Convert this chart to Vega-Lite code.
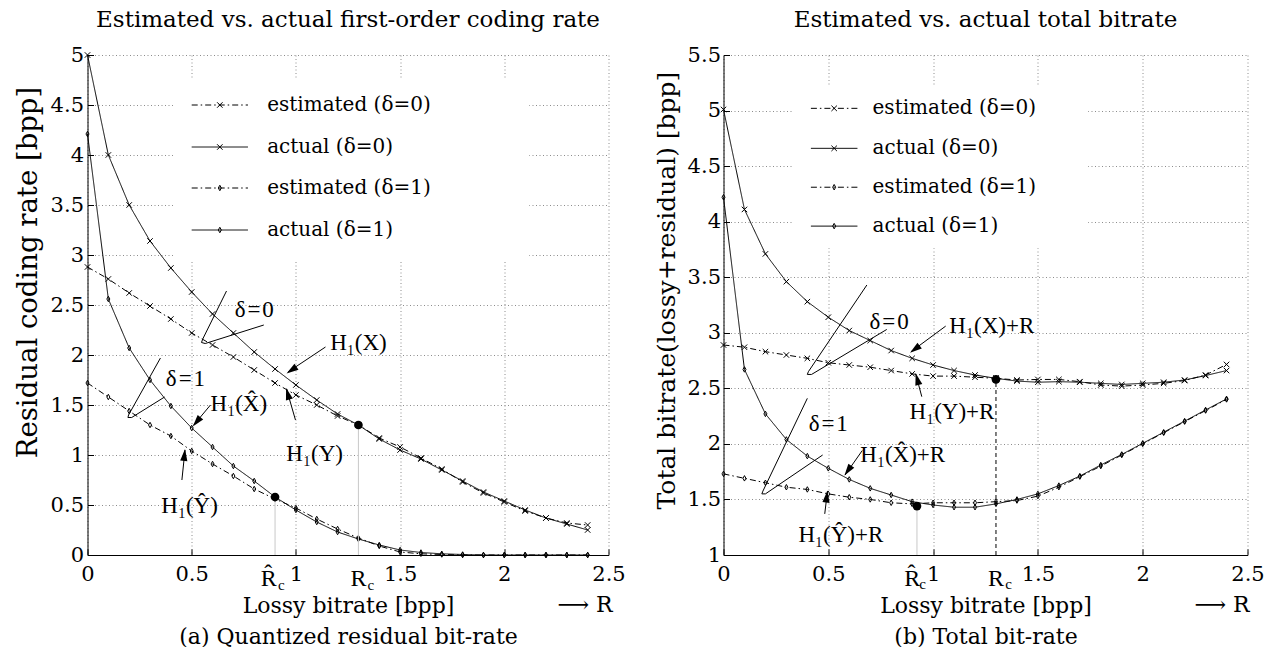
{
  "$schema": "https://vega.github.io/schema/vega-lite/v6.json",
  "padding": {"left": 13.5, "top": 9, "right": 5, "bottom": 0},
  "background": "white",
  "bounds": "flush",
  "spacing": 115,
  "config": {
    "font": "DejaVu Serif",
    "view": {"stroke": null},
    "legend": {"disable": true},
    "axis": {
      "labelFont": "DejaVu Serif",
      "labelFontSize": 21,
      "labelColor": "black",
      "titleFont": "DejaVu Serif",
      "titleFontWeight": "normal",
      "titleColor": "black",
      "domainColor": "black",
      "domainWidth": 1,
      "gridColor": "#8c8c8c",
      "gridDash": [1, 2.5],
      "gridWidth": 1,
      "tickColor": "black",
      "tickSize": -6,
      "labelFlush": false,
      "labelOverlap": false
    },
    "title": {"font": "DejaVu Serif", "fontSize": 23, "fontWeight": "normal", "color": "black", "offset": 12, "anchor": "middle"}
  },
  "datasets": {
    "L": [
      {"x":0,"s":"act0","y":5.0},{"x":0.1,"s":"act0","y":4.0},{"x":0.2,"s":"act0","y":3.5},{"x":0.3,"s":"act0","y":3.14},{"x":0.4,"s":"act0","y":2.87},{"x":0.5,"s":"act0","y":2.63},{"x":0.6,"s":"act0","y":2.41},{"x":0.7,"s":"act0","y":2.22},{"x":0.8,"s":"act0","y":2.03},{"x":0.9,"s":"act0","y":1.86},{"x":1,"s":"act0","y":1.70},{"x":1.1,"s":"act0","y":1.55},{"x":1.2,"s":"act0","y":1.41},{"x":1.3,"s":"act0","y":1.30},{"x":1.4,"s":"act0","y":1.16},{"x":1.5,"s":"act0","y":1.05},{"x":1.6,"s":"act0","y":0.96},{"x":1.7,"s":"act0","y":0.85},{"x":1.8,"s":"act0","y":0.74},{"x":1.9,"s":"act0","y":0.63},{"x":2,"s":"act0","y":0.54},{"x":2.1,"s":"act0","y":0.45},{"x":2.2,"s":"act0","y":0.37},{"x":2.3,"s":"act0","y":0.31},{"x":2.4,"s":"act0","y":0.25},
      {"x":0,"s":"est0","y":2.88},{"x":0.1,"s":"est0","y":2.76},{"x":0.2,"s":"est0","y":2.62},{"x":0.3,"s":"est0","y":2.49},{"x":0.4,"s":"est0","y":2.36},{"x":0.5,"s":"est0","y":2.22},{"x":0.6,"s":"est0","y":2.10},{"x":0.7,"s":"est0","y":1.98},{"x":0.8,"s":"est0","y":1.85},{"x":0.9,"s":"est0","y":1.72},{"x":1,"s":"est0","y":1.60},{"x":1.1,"s":"est0","y":1.50},{"x":1.2,"s":"est0","y":1.39},{"x":1.3,"s":"est0","y":1.30},{"x":1.4,"s":"est0","y":1.17},{"x":1.5,"s":"est0","y":1.08},{"x":1.6,"s":"est0","y":0.97},{"x":1.7,"s":"est0","y":0.86},{"x":1.8,"s":"est0","y":0.73},{"x":1.9,"s":"est0","y":0.62},{"x":2,"s":"est0","y":0.53},{"x":2.1,"s":"est0","y":0.44},{"x":2.2,"s":"est0","y":0.37},{"x":2.3,"s":"est0","y":0.32},{"x":2.4,"s":"est0","y":0.30},
      {"x":0,"s":"act1","y":4.21},{"x":0.1,"s":"act1","y":2.56},{"x":0.2,"s":"act1","y":2.07},{"x":0.3,"s":"act1","y":1.75},{"x":0.4,"s":"act1","y":1.49},{"x":0.5,"s":"act1","y":1.27},{"x":0.6,"s":"act1","y":1.08},{"x":0.7,"s":"act1","y":0.89},{"x":0.8,"s":"act1","y":0.74},{"x":0.9,"s":"act1","y":0.58},{"x":1,"s":"act1","y":0.45},{"x":1.1,"s":"act1","y":0.33},{"x":1.2,"s":"act1","y":0.23},{"x":1.3,"s":"act1","y":0.16},{"x":1.4,"s":"act1","y":0.10},{"x":1.5,"s":"act1","y":0.05},{"x":1.6,"s":"act1","y":0.025},{"x":1.7,"s":"act1","y":0.012},{"x":1.8,"s":"act1","y":0.005},{"x":1.9,"s":"act1","y":0},{"x":2,"s":"act1","y":0},{"x":2.1,"s":"act1","y":0},{"x":2.2,"s":"act1","y":0},{"x":2.3,"s":"act1","y":0},{"x":2.4,"s":"act1","y":0},
      {"x":0,"s":"est1","y":1.72},{"x":0.1,"s":"est1","y":1.58},{"x":0.2,"s":"est1","y":1.44},{"x":0.3,"s":"est1","y":1.30},{"x":0.4,"s":"est1","y":1.19},{"x":0.5,"s":"est1","y":1.04},{"x":0.6,"s":"est1","y":0.91},{"x":0.7,"s":"est1","y":0.79},{"x":0.8,"s":"est1","y":0.66},{"x":0.9,"s":"est1","y":0.56},{"x":1,"s":"est1","y":0.47},{"x":1.1,"s":"est1","y":0.36},{"x":1.2,"s":"est1","y":0.26},{"x":1.3,"s":"est1","y":0.17},{"x":1.4,"s":"est1","y":0.09},{"x":1.5,"s":"est1","y":0.03},{"x":1.6,"s":"est1","y":0.012},{"x":1.7,"s":"est1","y":0.005},{"x":1.8,"s":"est1","y":0},{"x":1.9,"s":"est1","y":0},{"x":2,"s":"est1","y":0},{"x":2.1,"s":"est1","y":0},{"x":2.2,"s":"est1","y":0},{"x":2.3,"s":"est1","y":0},{"x":2.4,"s":"est1","y":0}
    ],
    "R": [
      {"x":0,"s":"act0","y":5.01},{"x":0.1,"s":"act0","y":4.11},{"x":0.2,"s":"act0","y":3.71},{"x":0.3,"s":"act0","y":3.46},{"x":0.4,"s":"act0","y":3.28},{"x":0.5,"s":"act0","y":3.14},{"x":0.6,"s":"act0","y":3.02},{"x":0.7,"s":"act0","y":2.93},{"x":0.8,"s":"act0","y":2.84},{"x":0.9,"s":"act0","y":2.77},{"x":1,"s":"act0","y":2.71},{"x":1.1,"s":"act0","y":2.66},{"x":1.2,"s":"act0","y":2.62},{"x":1.3,"s":"act0","y":2.59},{"x":1.4,"s":"act0","y":2.565},{"x":1.5,"s":"act0","y":2.555},{"x":1.6,"s":"act0","y":2.56},{"x":1.7,"s":"act0","y":2.555},{"x":1.8,"s":"act0","y":2.545},{"x":1.9,"s":"act0","y":2.535},{"x":2,"s":"act0","y":2.545},{"x":2.1,"s":"act0","y":2.555},{"x":2.2,"s":"act0","y":2.575},{"x":2.3,"s":"act0","y":2.615},{"x":2.4,"s":"act0","y":2.66},
      {"x":0,"s":"est0","y":2.89},{"x":0.1,"s":"est0","y":2.87},{"x":0.2,"s":"est0","y":2.83},{"x":0.3,"s":"est0","y":2.80},{"x":0.4,"s":"est0","y":2.77},{"x":0.5,"s":"est0","y":2.73},{"x":0.6,"s":"est0","y":2.71},{"x":0.7,"s":"est0","y":2.69},{"x":0.8,"s":"est0","y":2.66},{"x":0.9,"s":"est0","y":2.63},{"x":1,"s":"est0","y":2.61},{"x":1.1,"s":"est0","y":2.61},{"x":1.2,"s":"est0","y":2.60},{"x":1.3,"s":"est0","y":2.59},{"x":1.4,"s":"est0","y":2.575},{"x":1.5,"s":"est0","y":2.58},{"x":1.6,"s":"est0","y":2.58},{"x":1.7,"s":"est0","y":2.56},{"x":1.8,"s":"est0","y":2.53},{"x":1.9,"s":"est0","y":2.52},{"x":2,"s":"est0","y":2.53},{"x":2.1,"s":"est0","y":2.545},{"x":2.2,"s":"est0","y":2.57},{"x":2.3,"s":"est0","y":2.62},{"x":2.4,"s":"est0","y":2.715},
      {"x":0,"s":"act1","y":4.22},{"x":0.1,"s":"act1","y":2.67},{"x":0.2,"s":"act1","y":2.27},{"x":0.3,"s":"act1","y":2.04},{"x":0.4,"s":"act1","y":1.89},{"x":0.5,"s":"act1","y":1.78},{"x":0.6,"s":"act1","y":1.68},{"x":0.7,"s":"act1","y":1.60},{"x":0.8,"s":"act1","y":1.54},{"x":0.9,"s":"act1","y":1.48},{"x":1,"s":"act1","y":1.45},{"x":1.1,"s":"act1","y":1.43},{"x":1.2,"s":"act1","y":1.43},{"x":1.3,"s":"act1","y":1.46},{"x":1.4,"s":"act1","y":1.50},{"x":1.5,"s":"act1","y":1.55},{"x":1.6,"s":"act1","y":1.625},{"x":1.7,"s":"act1","y":1.71},{"x":1.8,"s":"act1","y":1.81},{"x":1.9,"s":"act1","y":1.905},{"x":2,"s":"act1","y":2.005},{"x":2.1,"s":"act1","y":2.105},{"x":2.2,"s":"act1","y":2.205},{"x":2.3,"s":"act1","y":2.305},{"x":2.4,"s":"act1","y":2.405},
      {"x":0,"s":"est1","y":1.73},{"x":0.1,"s":"est1","y":1.69},{"x":0.2,"s":"est1","y":1.65},{"x":0.3,"s":"est1","y":1.61},{"x":0.4,"s":"est1","y":1.59},{"x":0.5,"s":"est1","y":1.55},{"x":0.6,"s":"est1","y":1.52},{"x":0.7,"s":"est1","y":1.50},{"x":0.8,"s":"est1","y":1.47},{"x":0.9,"s":"est1","y":1.46},{"x":1,"s":"est1","y":1.47},{"x":1.1,"s":"est1","y":1.47},{"x":1.2,"s":"est1","y":1.47},{"x":1.3,"s":"est1","y":1.48},{"x":1.4,"s":"est1","y":1.49},{"x":1.5,"s":"est1","y":1.53},{"x":1.6,"s":"est1","y":1.61},{"x":1.7,"s":"est1","y":1.705},{"x":1.8,"s":"est1","y":1.80},{"x":1.9,"s":"est1","y":1.90},{"x":2,"s":"est1","y":2.00},{"x":2.1,"s":"est1","y":2.10},{"x":2.2,"s":"est1","y":2.20},{"x":2.3,"s":"est1","y":2.30},{"x":2.4,"s":"est1","y":2.40}
    ],
    "legL": [
      {"s":"est0","label":"estimated (δ=0)","y":4.50},
      {"s":"act0","label":"actual (δ=0)","y":4.08},
      {"s":"est1","label":"estimated (δ=1)","y":3.67},
      {"s":"act1","label":"actual (δ=1)","y":3.25}
    ],
    "legR": [
      {"s":"est0","label":"estimated (δ=0)","y":5.02},
      {"s":"act0","label":"actual (δ=0)","y":4.66},
      {"s":"est1","label":"estimated (δ=1)","y":4.31},
      {"s":"act1","label":"actual (δ=1)","y":3.96}
    ],
    "annL": [
      {"t":"δ\u200a=\u200a0","x":0.80,"y":2.45},
      {"t":"δ\u200a=\u200a1","x":0.47,"y":1.76},
      {"t":"H₁(X)","x":1.30,"y":2.12},
      {"t":"H₁(X\u0302)","x":0.726,"y":1.51},
      {"t":"H₁(Ŷ)","x":0.49,"y":0.495},
      {"t":"H₁(Y)","x":1.09,"y":1.01}
    ],
    "annR": [
      {"t":"δ\u200a=\u200a0","x":0.79,"y":3.10},
      {"t":"δ\u200a=\u200a1","x":0.50,"y":2.18},
      {"t":"H₁(X)+R","x":1.28,"y":3.06},
      {"t":"H₁(Y)+R","x":1.09,"y":2.29},
      {"t":"H₁(X\u0302)+R","x":0.855,"y":1.90},
      {"t":"H₁(Ŷ)+R","x":0.56,"y":1.18}
    ],
    "loopL": [
      {"id":"a","o":1,"x":0.667,"y":2.64},{"id":"a","o":2,"x":0.553,"y":2.16},{"id":"a","o":3,"x":0.547,"y":2.125},{"id":"a","o":4,"x":0.565,"y":2.115},{"id":"a","o":5,"x":0.846,"y":2.30},
      {"id":"b","o":1,"x":0.35,"y":1.97},{"id":"b","o":2,"x":0.197,"y":1.40},{"id":"b","o":3,"x":0.194,"y":1.375},{"id":"b","o":4,"x":0.212,"y":1.375},{"id":"b","o":5,"x":0.37,"y":1.58}
    ],
    "loopR": [
      {"id":"a","o":1,"x":0.684,"y":3.43},{"id":"a","o":2,"x":0.405,"y":2.65},{"id":"a","o":3,"x":0.40,"y":2.625},{"id":"a","o":4,"x":0.42,"y":2.625},{"id":"a","o":5,"x":0.779,"y":3.03},
      {"id":"b","o":1,"x":0.40,"y":2.41},{"id":"b","o":2,"x":0.188,"y":1.575},{"id":"b","o":3,"x":0.183,"y":1.55},{"id":"b","o":4,"x":0.20,"y":1.55},{"id":"b","o":5,"x":0.473,"y":1.90}
    ],
    "arrL": [
      {"id":"A1","o":1,"x":1.142,"y":2.08},{"id":"A1","o":2,"x":0.962,"y":1.83},
      {"id":"A2","o":1,"x":0.59,"y":1.50},{"id":"A2","o":2,"x":0.51,"y":1.30},
      {"id":"A3","o":1,"x":0.453,"y":0.75},{"id":"A3","o":2,"x":0.468,"y":1.05},
      {"id":"A4","o":1,"x":0.998,"y":1.35},{"id":"A4","o":2,"x":0.955,"y":1.66}
    ],
    "headL": [
      {"id":"A1","x":0.955,"y":1.815},
      {"id":"A2","x":0.505,"y":1.285},
      {"id":"A3","x":0.468,"y":1.06},
      {"id":"A4","x":0.953,"y":1.67}
    ],
    "arrR": [
      {"id":"B1","o":1,"x":1.06,"y":3.06},{"id":"B1","o":2,"x":0.895,"y":2.83},
      {"id":"B2","o":1,"x":0.946,"y":2.425},{"id":"B2","o":2,"x":0.917,"y":2.63},
      {"id":"B3","o":1,"x":0.662,"y":1.94},{"id":"B3","o":2,"x":0.58,"y":1.72},
      {"id":"B4","o":1,"x":0.483,"y":1.37},{"id":"B4","o":2,"x":0.496,"y":1.575}
    ],
    "headR": [
      {"id":"B1","x":0.89,"y":2.82},
      {"id":"B2","x":0.917,"y":2.635},
      {"id":"B3","x":0.577,"y":1.715},
      {"id":"B4","x":0.496,"y":1.58}
    ],
    "dotL": [{"x":0.9,"y":0.58},{"x":1.3,"y":1.30}],
    "dotR": [{"x":0.923,"y":1.44},{"x":1.3,"y":2.58}],
    "vL": [{"x":0.9,"y":0,"y2":0.58},{"x":1.3,"y":0,"y2":1.30}],
    "vR1": [{"x":0.923,"y":1,"y2":1.44}],
    "vR2": [{"x":1.3,"y":1,"y2":2.58}],
    "rcL": [{"t":"R\u0302","x":0.87,"y":-0.31},{"t":"R","x":1.30,"y":-0.31}],
    "subL": [{"x":0.93,"y":-0.345},{"x":1.36,"y":-0.345}],
    "rcR": [{"t":"R\u0302","x":0.90,"y":0.721},{"t":"R","x":1.30,"y":0.721}],
    "subR": [{"x":0.95,"y":0.69},{"x":1.36,"y":0.69}],
    "toL": [{"t":"⟶ R","x":2.52,"y":-0.57}],
    "toR": [{"t":"⟶ R","x":2.51,"y":0.488}]
  },
  "hconcat": [
    {
      "width": 521,
      "height": 500,
      "title": "Estimated vs. actual first-order coding rate",
      "layer": [
        {
          "data": {"name": "L"},
          "mark": {"type": "line", "color": "black", "strokeWidth": 1},
          "encoding": {
            "x": {"field": "x", "type": "quantitative", "scale": {"domain": [0, 2.5], "nice": false, "zero": false},
                  "axis": {"values": [0, 0.5, 1, 1.5, 2, 2.5], "format": "~g", "title": ["Lossy bitrate [bpp]", "(a) Quantized residual bit-rate"], "titleFontSize": 22, "titleLineHeight": 31, "titlePadding": 11, "labelPadding": 14, "grid": true}},
            "y": {"field": "y", "type": "quantitative", "scale": {"domain": [0, 5], "nice": false, "zero": false},
                  "axis": {"values": [0, 0.5, 1, 1.5, 2, 2.5, 3, 3.5, 4, 4.5, 5], "format": "~g", "title": "Residual coding rate [bpp]", "titleFontSize": 27.5, "titlePadding": 8, "titleY": 217, "labelPadding": 10, "grid": true}},
            "strokeDash": {"field": "s", "type": "nominal", "scale": {"domain": ["est0", "act0", "est1", "act1"], "range": [[6, 3, 1.5, 3], [1, 0], [6, 3, 1.5, 3], [1, 0]]}}
          }
        },
        {
          "data": {"name": "L"},
          "mark": {"type": "point", "filled": false, "color": "black", "strokeWidth": 1, "opacity": 1},
          "encoding": {
            "x": {"field": "x", "type": "quantitative"},
            "y": {"field": "y", "type": "quantitative"},
            "shape": {"field": "s", "type": "nominal", "scale": {"domain": ["est0", "act0", "est1", "act1"], "range": ["M-1,-1L1,1M-1,1L1,-1", "M-1,-1L1,1M-1,1L1,-1", "M0,-1L0.55,0L0,1L-0.55,0Z", "M0,-1L0.55,0L0,1L-0.55,0Z"]}},
            "size": {"field": "s", "type": "nominal", "scale": {"domain": ["est0", "act0", "est1", "act1"], "range": [30, 30, 76, 76]}}
          }
        },
        {
          "data": {"values": [{}]},
          "mark": {"type": "rect", "color": "white"},
          "encoding": {
            "x": {"datum": 0.41, "type": "quantitative"}, "x2": {"datum": 2.12},
            "y": {"datum": 2.95, "type": "quantitative"}, "y2": {"datum": 4.77}
          }
        },
        {
          "data": {"name": "vL"},
          "mark": {"type": "rule", "color": "#c8c8c8", "strokeWidth": 1},
          "encoding": {"x": {"field": "x", "type": "quantitative"}, "y": {"field": "y", "type": "quantitative"}, "y2": {"field": "y2"}}
        },
        {
          "data": {"name": "dotL"},
          "mark": {"type": "point", "shape": "circle", "filled": true, "color": "black", "size": 75, "opacity": 1},
          "encoding": {"x": {"field": "x", "type": "quantitative"}, "y": {"field": "y", "type": "quantitative"}}
        },
        {
          "data": {"name": "legL"},
          "mark": {"type": "rule", "color": "black", "strokeWidth": 1},
          "encoding": {
            "x": {"datum": 0.50, "type": "quantitative"}, "x2": {"datum": 0.77},
            "y": {"field": "y", "type": "quantitative"},
            "strokeDash": {"field": "s", "type": "nominal", "scale": {"domain": ["est0", "act0", "est1", "act1"], "range": [[6, 3, 1.5, 3], [1, 0], [6, 3, 1.5, 3], [1, 0]]}}
          }
        },
        {
          "data": {"name": "legL"},
          "mark": {"type": "point", "filled": false, "color": "black", "strokeWidth": 1, "opacity": 1},
          "encoding": {
            "x": {"datum": 0.635, "type": "quantitative"},
            "y": {"field": "y", "type": "quantitative"},
            "shape": {"field": "s", "type": "nominal", "scale": {"domain": ["est0", "act0", "est1", "act1"], "range": ["M-1,-1L1,1M-1,1L1,-1", "M-1,-1L1,1M-1,1L1,-1", "M0,-1L0.55,0L0,1L-0.55,0Z", "M0,-1L0.55,0L0,1L-0.55,0Z"]}},
            "size": {"field": "s", "type": "nominal", "scale": {"domain": ["est0", "act0", "est1", "act1"], "range": [30, 30, 76, 76]}}
          }
        },
        {
          "data": {"name": "legL"},
          "mark": {"type": "text", "font": "DejaVu Serif", "fontSize": 20, "align": "left", "baseline": "middle", "color": "black"},
          "encoding": {"x": {"datum": 0.862, "type": "quantitative"}, "y": {"field": "y", "type": "quantitative"}, "text": {"field": "label"}}
        },
        {
          "data": {"name": "loopL"},
          "mark": {"type": "line", "color": "black", "strokeWidth": 1},
          "encoding": {"x": {"field": "x", "type": "quantitative"}, "y": {"field": "y", "type": "quantitative"}, "detail": {"field": "id"}, "order": {"field": "o"}}
        },
        {
          "data": {"name": "arrL"},
          "mark": {"type": "line", "color": "black", "strokeWidth": 1},
          "encoding": {"x": {"field": "x", "type": "quantitative"}, "y": {"field": "y", "type": "quantitative"}, "detail": {"field": "id"}, "order": {"field": "o"}}
        },
        {
          "data": {"name": "headL"}, "transform": [{"filter": "datum.id == 'A1'"}],
          "mark": {"type": "point", "shape": "M0,0L0.3,1L-0.3,1Z", "filled": true, "color": "black", "size": 576, "angle": 236, "opacity": 1},
          "encoding": {"x": {"field": "x", "type": "quantitative"}, "y": {"field": "y", "type": "quantitative"}}
        },
        {
          "data": {"name": "headL"}, "transform": [{"filter": "datum.id == 'A2'"}],
          "mark": {"type": "point", "shape": "M0,0L0.3,1L-0.3,1Z", "filled": true, "color": "black", "size": 576, "angle": 220, "opacity": 1},
          "encoding": {"x": {"field": "x", "type": "quantitative"}, "y": {"field": "y", "type": "quantitative"}}
        },
        {
          "data": {"name": "headL"}, "transform": [{"filter": "datum.id == 'A3'"}],
          "mark": {"type": "point", "shape": "M0,0L0.3,1L-0.3,1Z", "filled": true, "color": "black", "size": 576, "angle": 6, "opacity": 1},
          "encoding": {"x": {"field": "x", "type": "quantitative"}, "y": {"field": "y", "type": "quantitative"}}
        },
        {
          "data": {"name": "headL"}, "transform": [{"filter": "datum.id == 'A4'"}],
          "mark": {"type": "point", "shape": "M0,0L0.3,1L-0.3,1Z", "filled": true, "color": "black", "size": 576, "angle": 344, "opacity": 1},
          "encoding": {"x": {"field": "x", "type": "quantitative"}, "y": {"field": "y", "type": "quantitative"}}
        },
        {
          "data": {"name": "annL"},
          "mark": {"type": "text", "font": "Liberation Serif", "fontSize": 23, "align": "center", "baseline": "middle", "color": "black"},
          "encoding": {"x": {"field": "x", "type": "quantitative"}, "y": {"field": "y", "type": "quantitative"}, "text": {"field": "t"}}
        },
        {
          "data": {"name": "rcL"},
          "mark": {"type": "text", "font": "Liberation Serif", "fontSize": 24, "align": "center", "baseline": "alphabetic", "color": "black"},
          "encoding": {"x": {"field": "x", "type": "quantitative"}, "y": {"field": "y", "type": "quantitative"}, "text": {"field": "t"}}
        },
        {
          "data": {"name": "subL"},
          "mark": {"type": "text", "font": "Liberation Serif", "fontSize": 15, "align": "center", "baseline": "alphabetic", "color": "black", "text": "c"},
          "encoding": {"x": {"field": "x", "type": "quantitative"}, "y": {"field": "y", "type": "quantitative"}}
        },
        {
          "data": {"name": "toL"},
          "mark": {"type": "text", "font": "DejaVu Serif", "fontSize": 22, "align": "right", "baseline": "alphabetic", "color": "black"},
          "encoding": {"x": {"field": "x", "type": "quantitative"}, "y": {"field": "y", "type": "quantitative"}, "text": {"field": "t"}}
        }
      ]
    },
    {
      "width": 524,
      "height": 500,
      "title": "Estimated vs. actual total bitrate",
      "layer": [
        {
          "data": {"name": "R"},
          "mark": {"type": "line", "color": "black", "strokeWidth": 1},
          "encoding": {
            "x": {"field": "x", "type": "quantitative", "scale": {"domain": [0, 2.5], "nice": false, "zero": false},
                  "axis": {"values": [0, 0.5, 1, 1.5, 2, 2.5], "format": "~g", "title": ["Lossy bitrate [bpp]", "(b) Total bit-rate"], "titleFontSize": 22, "titleLineHeight": 31, "titlePadding": 11, "labelPadding": 14, "grid": true}},
            "y": {"field": "y", "type": "quantitative", "scale": {"domain": [1, 5.5], "nice": false, "zero": false},
                  "axis": {"values": [1, 1.5, 2, 2.5, 3, 3.5, 4, 4.5, 5, 5.5], "format": "~g", "title": "Total bitrate(lossy+residual) [bpp]", "titleFontSize": 25, "titlePadding": 8, "titleY": 235, "labelPadding": 9, "grid": true}},
            "strokeDash": {"field": "s", "type": "nominal", "scale": {"domain": ["est0", "act0", "est1", "act1"], "range": [[6, 3, 1.5, 3], [1, 0], [6, 3, 1.5, 3], [1, 0]]}}
          }
        },
        {
          "data": {"name": "R"},
          "mark": {"type": "point", "filled": false, "color": "black", "strokeWidth": 1, "opacity": 1},
          "encoding": {
            "x": {"field": "x", "type": "quantitative"},
            "y": {"field": "y", "type": "quantitative"},
            "shape": {"field": "s", "type": "nominal", "scale": {"domain": ["est0", "act0", "est1", "act1"], "range": ["M-1,-1L1,1M-1,1L1,-1", "M-1,-1L1,1M-1,1L1,-1", "M0,-1L0.55,0L0,1L-0.55,0Z", "M0,-1L0.55,0L0,1L-0.55,0Z"]}},
            "size": {"field": "s", "type": "nominal", "scale": {"domain": ["est0", "act0", "est1", "act1"], "range": [30, 30, 76, 76]}}
          }
        },
        {
          "data": {"values": [{}]},
          "mark": {"type": "rect", "color": "white"},
          "encoding": {
            "x": {"datum": 0.33, "type": "quantitative"}, "x2": {"datum": 1.74},
            "y": {"datum": 3.76, "type": "quantitative"}, "y2": {"datum": 5.22}
          }
        },
        {
          "data": {"name": "vR1"},
          "mark": {"type": "rule", "color": "#c8c8c8", "strokeWidth": 1},
          "encoding": {"x": {"field": "x", "type": "quantitative"}, "y": {"field": "y", "type": "quantitative"}, "y2": {"field": "y2"}}
        },
        {
          "data": {"name": "vR2"},
          "mark": {"type": "rule", "color": "black", "strokeWidth": 1, "strokeDash": [4, 3]},
          "encoding": {"x": {"field": "x", "type": "quantitative"}, "y": {"field": "y", "type": "quantitative"}, "y2": {"field": "y2"}}
        },
        {
          "data": {"name": "dotR"},
          "mark": {"type": "point", "shape": "circle", "filled": true, "color": "black", "size": 75, "opacity": 1},
          "encoding": {"x": {"field": "x", "type": "quantitative"}, "y": {"field": "y", "type": "quantitative"}}
        },
        {
          "data": {"name": "legR"},
          "mark": {"type": "rule", "color": "black", "strokeWidth": 1},
          "encoding": {
            "x": {"datum": 0.417, "type": "quantitative"}, "x2": {"datum": 0.639},
            "y": {"field": "y", "type": "quantitative"},
            "strokeDash": {"field": "s", "type": "nominal", "scale": {"domain": ["est0", "act0", "est1", "act1"], "range": [[6, 3, 1.5, 3], [1, 0], [6, 3, 1.5, 3], [1, 0]]}}
          }
        },
        {
          "data": {"name": "legR"},
          "mark": {"type": "point", "filled": false, "color": "black", "strokeWidth": 1, "opacity": 1},
          "encoding": {
            "x": {"datum": 0.528, "type": "quantitative"},
            "y": {"field": "y", "type": "quantitative"},
            "shape": {"field": "s", "type": "nominal", "scale": {"domain": ["est0", "act0", "est1", "act1"], "range": ["M-1,-1L1,1M-1,1L1,-1", "M-1,-1L1,1M-1,1L1,-1", "M0,-1L0.55,0L0,1L-0.55,0Z", "M0,-1L0.55,0L0,1L-0.55,0Z"]}},
            "size": {"field": "s", "type": "nominal", "scale": {"domain": ["est0", "act0", "est1", "act1"], "range": [30, 30, 76, 76]}}
          }
        },
        {
          "data": {"name": "legR"},
          "mark": {"type": "text", "font": "DejaVu Serif", "fontSize": 20, "align": "left", "baseline": "middle", "color": "black"},
          "encoding": {"x": {"datum": 0.711, "type": "quantitative"}, "y": {"field": "y", "type": "quantitative"}, "text": {"field": "label"}}
        },
        {
          "data": {"name": "loopR"},
          "mark": {"type": "line", "color": "black", "strokeWidth": 1},
          "encoding": {"x": {"field": "x", "type": "quantitative"}, "y": {"field": "y", "type": "quantitative"}, "detail": {"field": "id"}, "order": {"field": "o"}}
        },
        {
          "data": {"name": "arrR"},
          "mark": {"type": "line", "color": "black", "strokeWidth": 1},
          "encoding": {"x": {"field": "x", "type": "quantitative"}, "y": {"field": "y", "type": "quantitative"}, "detail": {"field": "id"}, "order": {"field": "o"}}
        },
        {
          "data": {"name": "headR"}, "transform": [{"filter": "datum.id == 'B1'"}],
          "mark": {"type": "point", "shape": "M0,0L0.3,1L-0.3,1Z", "filled": true, "color": "black", "size": 576, "angle": 233, "opacity": 1},
          "encoding": {"x": {"field": "x", "type": "quantitative"}, "y": {"field": "y", "type": "quantitative"}}
        },
        {
          "data": {"name": "headR"}, "transform": [{"filter": "datum.id == 'B2'"}],
          "mark": {"type": "point", "shape": "M0,0L0.3,1L-0.3,1Z", "filled": true, "color": "black", "size": 576, "angle": 345, "opacity": 1},
          "encoding": {"x": {"field": "x", "type": "quantitative"}, "y": {"field": "y", "type": "quantitative"}}
        },
        {
          "data": {"name": "headR"}, "transform": [{"filter": "datum.id == 'B3'"}],
          "mark": {"type": "point", "shape": "M0,0L0.3,1L-0.3,1Z", "filled": true, "color": "black", "size": 576, "angle": 215, "opacity": 1},
          "encoding": {"x": {"field": "x", "type": "quantitative"}, "y": {"field": "y", "type": "quantitative"}}
        },
        {
          "data": {"name": "headR"}, "transform": [{"filter": "datum.id == 'B4'"}],
          "mark": {"type": "point", "shape": "M0,0L0.3,1L-0.3,1Z", "filled": true, "color": "black", "size": 576, "angle": 7, "opacity": 1},
          "encoding": {"x": {"field": "x", "type": "quantitative"}, "y": {"field": "y", "type": "quantitative"}}
        },
        {
          "data": {"name": "annR"},
          "mark": {"type": "text", "font": "Liberation Serif", "fontSize": 23, "align": "center", "baseline": "middle", "color": "black"},
          "encoding": {"x": {"field": "x", "type": "quantitative"}, "y": {"field": "y", "type": "quantitative"}, "text": {"field": "t"}}
        },
        {
          "data": {"name": "rcR"},
          "mark": {"type": "text", "font": "Liberation Serif", "fontSize": 24, "align": "center", "baseline": "alphabetic", "color": "black"},
          "encoding": {"x": {"field": "x", "type": "quantitative"}, "y": {"field": "y", "type": "quantitative"}, "text": {"field": "t"}}
        },
        {
          "data": {"name": "subR"},
          "mark": {"type": "text", "font": "Liberation Serif", "fontSize": 15, "align": "center", "baseline": "alphabetic", "color": "black", "text": "c"},
          "encoding": {"x": {"field": "x", "type": "quantitative"}, "y": {"field": "y", "type": "quantitative"}}
        },
        {
          "data": {"name": "toR"},
          "mark": {"type": "text", "font": "DejaVu Serif", "fontSize": 22, "align": "right", "baseline": "alphabetic", "color": "black"},
          "encoding": {"x": {"field": "x", "type": "quantitative"}, "y": {"field": "y", "type": "quantitative"}, "text": {"field": "t"}}
        }
      ]
    }
  ]
}
